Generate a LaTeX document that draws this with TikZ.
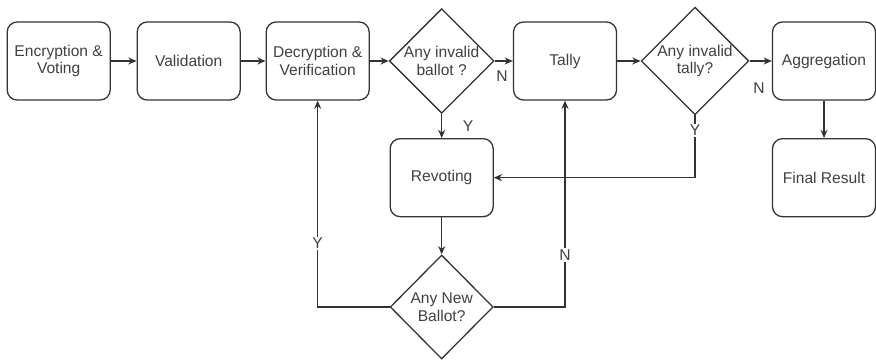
\documentclass[tikz,border=0pt]{standalone}
\usepackage{fontspec}
\setmainfont{Liberation Sans}
\usetikzlibrary{arrows.meta,positioning,shapes.geometric}
\definecolor{linegray}{HTML}{333333}
\definecolor{textgray}{HTML}{404040}

\begin{document}
\begin{tikzpicture}[>={Stealth[length=7pt,width=6pt]},font=\fontsize{13.3}{15.2}\selectfont,
  box/.style={draw=linegray,line width=1.1pt,rounded corners=0.3cm,minimum width=3.09cm,minimum height=2.34cm,align=center,text=textgray,inner sep=0pt},
  decision/.style={draw=linegray,line width=1.1pt,diamond,aspect=1,minimum width=3.09cm,minimum height=3.12cm,align=center,text=textgray,inner sep=0pt},
  flow/.style={draw=linegray,line width=1.1pt,->},
  lbl/.style={text=textgray,fill=white,inner sep=1pt}]
\useasboundingbox (0,0) rectangle (26.28,-10.80);
\node[box] (enc) at (1.76,-1.83) {Encryption \&\\Voting};
\node[box] (val) at (5.66,-1.83) {Validation};
\node[box] (dec) at (9.53,-1.83) {Decryption \&\\Verification};
\node[decision] (chkb) at (13.25,-1.83) {Any invalid\\ballot ?};
\node[box] (tally) at (16.95,-1.83) {Tally};
\node[decision] (chkt) at (20.85,-1.83) {Any invalid\\tally?};
\node[box] (aggr) at (24.72,-1.83) {Aggregation};
\node[box] (final) at (24.72,-5.33) {Final Result};
\node[box] (revote) at (13.25,-5.33) {Revoting};
\node[decision] (chkn) at (13.25,-9.21) {Any New\\Ballot?};
\draw[flow] (enc) -- (val);
\draw[flow] (val) -- (dec);
\draw[flow] (dec) -- (chkb);
\draw[flow] (chkb) -- node[lbl,pos=0,anchor=north west,yshift=-0.25cm] {N} (tally);
\draw[flow] (chkb) -- node[lbl,pos=0.5,anchor=west,xshift=0.58cm] {Y} (revote);
\draw[flow] (tally) -- (chkt);
\draw[flow] (chkt) -- node[lbl,pos=0.42,yshift=-0.81cm] {N} (aggr);
\draw[flow] (chkt) |- node[lbl,pos=0.12] {Y} (revote);
\draw[flow] (aggr) -- (final);
\draw[flow] (revote) -- (chkn);
\draw[flow] (chkn) -| node[lbl,pos=0.655] {Y} (dec);
\draw[flow] (chkn) -| node[lbl,pos=0.626] {N} (tally);
\end{tikzpicture}
\end{document}
